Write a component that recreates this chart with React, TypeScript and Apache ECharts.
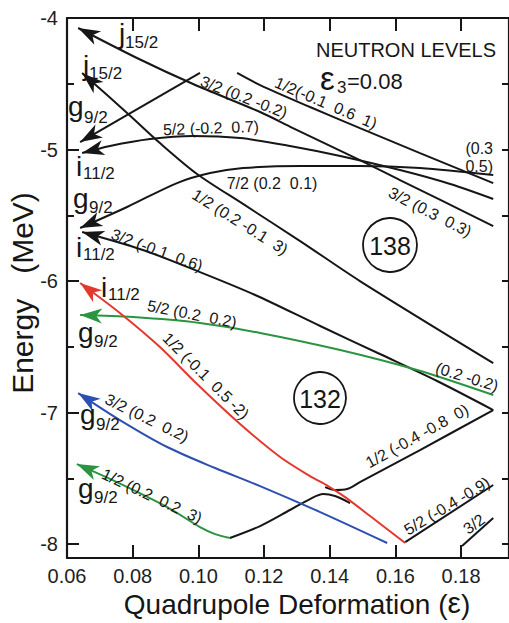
import React, { useEffect, useRef } from "react";
import * as echarts from "echarts";

type P = [number, number];

const X_MIN = 0.06;
const X_MAX = 0.1946;
const Y_MIN = -8.106;
const Y_MAX = -4;

const xTickValues = [0.06, 0.08, 0.1, 0.12, 0.14, 0.16, 0.18];
const yMajorTicks = [-8, -7, -6, -5, -4];
const yMinorTicks = [-7.5, -6.5, -5.5, -4.5];

// Single-particle neutron levels (deformation, energy in MeV)
const j15Upper: P[] = [[0.0634, -4.076], [0.0813, -4.304], [0.0984, -4.502], [0.1188, -4.715], [0.1288, -4.837], [0.1492, -5.08], [0.1614, -5.232], [0.1898, -5.582]];
const j15Lower: P[] = [[0.0646, -4.418], [0.0783, -4.722], [0.0883, -4.951], [0.0996, -5.186], [0.1136, -5.414], [0.131, -5.696], [0.1492, -6.0], [0.1898, -6.624]];
const g92Upper: P[] = [[0.064, -4.943], [0.1005, -4.418]];
const level52a: P[] = [[0.0646, -5.027], [0.0731, -4.973], [0.0853, -4.92], [0.0984, -4.897], [0.1127, -4.913], [0.1279, -4.973], [0.1432, -5.049], [0.1614, -5.156], [0.1767, -5.262], [0.1898, -5.376]];
const level72: P[] = [[0.064, -5.597], [0.0783, -5.437], [0.0935, -5.255], [0.1036, -5.179], [0.1136, -5.141], [0.131, -5.125], [0.1492, -5.125], [0.1675, -5.141], [0.1898, -5.194]];
const level12top: P[] = [[0.1118, -4.418], [0.1188, -4.51], [0.134, -4.677], [0.1492, -4.837], [0.1675, -5.027], [0.1898, -5.255]];
const level32a: P[] = [[0.0646, -5.627], [0.0831, -5.764], [0.1005, -5.932], [0.1173, -6.106], [0.1371, -6.342], [0.1553, -6.555], [0.1727, -6.76], [0.1898, -6.981]];
const level12v: P[] = [[0.1386, -7.567], [0.1416, -7.589], [0.1453, -7.582], [0.1492, -7.529], [0.1675, -7.285], [0.1898, -6.981]];
const redLevel: P[] = [[0.064, -6.015], [0.0761, -6.243], [0.0883, -6.502], [0.0996, -6.783], [0.1127, -7.087], [0.1249, -7.338], [0.134, -7.483], [0.1395, -7.559], [0.1447, -7.643], [0.1523, -7.787], [0.163, -7.992]];
const blackLower: P[] = [[0.1096, -7.954], [0.1188, -7.863], [0.1279, -7.741], [0.134, -7.658], [0.138, -7.62], [0.1416, -7.635], [0.1462, -7.688]];
const greenUpper: P[] = [[0.064, -6.259], [0.0801, -6.274], [0.1005, -6.319], [0.1188, -6.395], [0.1432, -6.525], [0.1666, -6.677], [0.1898, -6.867]];
const blueLevel: P[] = [[0.0634, -6.852], [0.0761, -7.057], [0.0905, -7.262], [0.1051, -7.422], [0.1188, -7.559], [0.1371, -7.757], [0.1575, -7.992]];
const greenLower: P[] = [[0.063, -7.392], [0.0752, -7.529], [0.0905, -7.719], [0.1005, -7.871], [0.1051, -7.924], [0.1096, -7.954]];
const level52b: P[] = [[0.163, -7.985], [0.1898, -7.551]];
const level32b: P[] = [[0.1803, -8.015], [0.1898, -7.802]];

const BLACK = "#161616";
const RED = "#e4382e";
const GREEN = "#2a9440";
const BLUE = "#2d4fb2";
const FONT = '"Liberation Sans", Arial, Helvetica, sans-serif';

const curves: { data: P[]; color: string; arrow: boolean; z: number }[] = [
  { data: j15Upper, color: BLACK, arrow: true, z: 2 },
  { data: j15Lower, color: BLACK, arrow: true, z: 2 },
  { data: g92Upper, color: BLACK, arrow: true, z: 2 },
  { data: level52a, color: BLACK, arrow: true, z: 2 },
  { data: level72, color: BLACK, arrow: true, z: 2 },
  { data: level12top, color: BLACK, arrow: false, z: 2 },
  { data: level32a, color: BLACK, arrow: true, z: 2 },
  { data: level12v, color: BLACK, arrow: false, z: 2 },
  { data: blackLower, color: BLACK, arrow: false, z: 2 },
  { data: level52b, color: BLACK, arrow: false, z: 2 },
  { data: level32b, color: BLACK, arrow: false, z: 2 },
  { data: greenUpper, color: GREEN, arrow: true, z: 3 },
  { data: blueLevel, color: BLUE, arrow: true, z: 3 },
  { data: greenLower, color: GREEN, arrow: true, z: 3 },
  { data: redLevel, color: RED, arrow: true, z: 4 },
];

const deg = (d: number) => (-d * Math.PI) / 180;

function txt(text: string, x: number, y: number, size: number, opts: any = {}) {
  return {
    type: "text",
    x,
    y,
    rotation: opts.rot ? deg(opts.rot) : 0,
    z: 20,
    silent: true,
    style: {
      text,
      fill: BLACK,
      font: `${size}px ${FONT}`,
      align: opts.align || "left",
      verticalAlign: "middle",
      lineHeight: opts.lh || Math.round(size * 1.1),
      rich: opts.rich,
    },
  };
}

// orbital labels: main letter + subscript
const orbital = (m: string, s: string, mx: number, my: number, sx: number, sy: number) => [
  txt(m, mx, my, 28),
  txt(s, sx, sy, 17),
];

const graphics: any[] = [
  ...orbital("j", "15/2", 119, 33, 125, 42),
  ...orbital("j", "15/2", 83, 65, 89, 73),
  ...orbital("g", "9/2", 68, 106, 84, 117),
  ...orbital("i", "11/2", 76, 166, 83, 173),
  ...orbital("g", "9/2", 73, 198, 89, 207),
  ...orbital("i", "11/2", 76, 247, 83, 254),
  ...orbital("i", "11/2", 101, 287, 108, 294),
  ...orbital("g", "9/2", 78, 332, 94, 341),
  ...orbital("g", "9/2", 80, 414, 96, 424),
  ...orbital("g", "9/2", 78, 488, 94, 497),
  txt("3/2 (0.2 -0.2)", 244, 97, 16, { align: "center", rot: 21 }),
  txt("1/2(-0.1  0.6  1)", 326, 103, 16, { align: "center", rot: 23 }),
  txt("5/2 (-0.2  0.7)", 211, 128, 16, { align: "center", rot: -2 }),
  txt("7/2 (0.2  0.1)", 272, 183, 16, { align: "center" }),
  txt("1/2 (0.2 -0.1  3)", 240, 222, 16, { align: "center", rot: 32 }),
  txt("3/2 (-0.1  0.6)", 157, 250, 16, { align: "center", rot: 20 }),
  txt("5/2 (0.2  0.2)", 192, 314, 16, { align: "center", rot: 11 }),
  txt("1/2 (-0.1  0.5 -2)", 206, 376, 16, { align: "center", rot: 45 }),
  txt("3/2 (0.2  0.2)", 147, 418, 16, { align: "center", rot: 26 }),
  txt("1/2 (0.2  0.2  3)", 152, 496, 16, { align: "center", rot: 25 }),
  txt("(0.3", 493, 148, 16, { align: "right" }),
  txt("0.5)", 493, 166, 16, { align: "right" }),
  txt("3/2 (0.3  0.3)", 430, 212, 16, { align: "center", rot: 27 }),
  txt("(0.2 -0.2)", 467, 377, 16, { align: "center", rot: 17 }),
  txt("1/2 (-0.4 -0.8  0)", 417, 436, 16, { align: "center", rot: -29 }),
  txt("5/2 (-0.4 -0.9)", 447, 506, 16, { align: "center", rot: -31 }),
  txt("3/2", 474, 524, 16, { align: "center", rot: -36 }),
  txt("NEUTRON LEVELS", 406, 50, 20, { align: "center", lh: 18 }),
  txt("ε", 320, 78, 33, { lh: 18 }),
  txt("3", 337, 87, 17, { lh: 15 }),
  txt("=0.08", 347, 81, 22, { lh: 18 }),
  txt("{a|Quadrupole Deformation (}{e|ε}{a|)}", 297, 604, 28, {
    align: "center",
    lh: 24,
    rich: {
      a: { font: `28px ${FONT}`, fill: BLACK, lineHeight: 24 },
      e: { font: `30px ${FONT}`, fill: BLACK, lineHeight: 20, padding: [0, 0, 3, 0] },
    },
  }),
  txt("Energy   (MeV)", 22, 293, 30, { align: "center", rot: -90 }),
  {
    type: "circle",
    z: 20,
    silent: true,
    shape: { cx: 390, cy: 245, r: 27 },
    style: { fill: "none", stroke: BLACK, lineWidth: 1.8 },
  },
  txt("138", 390, 246, 25, { align: "center" }),
  {
    type: "circle",
    z: 20,
    silent: true,
    shape: { cx: 320, cy: 398, r: 26 },
    style: { fill: "none", stroke: BLACK, lineWidth: 1.8 },
  },
  txt("132", 320, 399, 25, { align: "center" }),
];

const axisLineStyle = { lineStyle: { color: BLACK, width: 2.2 } };

const option: any = {
  animation: false,
  grid: { left: 67, top: 18, right: 0, bottom: 65, containLabel: false },
  xAxis: [
    {
      type: "value",
      position: "bottom",
      min: X_MIN,
      max: X_MAX,
      axisLine: { show: true, ...axisLineStyle },
      axisTick: { show: true, inside: true, length: 13, customValues: xTickValues, lineStyle: { color: BLACK, width: 2 } },
      axisLabel: {
        show: true,
        customValues: xTickValues,
        formatter: (v: number) => v.toFixed(2),
        fontSize: 20,
        fontFamily: FONT,
        color: "#1e1e1e",
        margin: 8,
      },
      splitLine: { show: false },
    },
    {
      type: "value",
      position: "top",
      min: X_MIN,
      max: X_MAX,
      axisLine: { show: true, ...axisLineStyle },
      axisTick: { show: true, inside: true, length: 13, customValues: xTickValues, lineStyle: { color: BLACK, width: 2 } },
      axisLabel: { show: false },
      splitLine: { show: false },
    },
  ],
  yAxis: [
    {
      type: "value",
      position: "left",
      min: Y_MIN,
      max: Y_MAX,
      axisLine: { show: true, ...axisLineStyle },
      axisTick: { show: true, inside: true, length: 12, customValues: yMajorTicks, lineStyle: { color: BLACK, width: 2 } },
      axisLabel: {
        show: true,
        customValues: yMajorTicks,
        formatter: (v: number) => String(v),
        fontSize: 20,
        fontFamily: FONT,
        color: "#1e1e1e",
        margin: 9,
      },
      splitLine: { show: false },
    },
    {
      type: "value",
      position: "left",
      min: Y_MIN,
      max: Y_MAX,
      axisLine: { show: false },
      axisTick: { show: true, inside: true, length: 7, customValues: yMinorTicks, lineStyle: { color: BLACK, width: 2 } },
      axisLabel: { show: false },
      splitLine: { show: false },
    },
    {
      type: "value",
      position: "right",
      min: Y_MIN,
      max: Y_MAX,
      axisLine: { show: true, ...axisLineStyle },
      axisTick: { show: true, inside: true, length: 7, customValues: [...yMajorTicks, ...yMinorTicks], lineStyle: { color: BLACK, width: 2 } },
      axisLabel: { show: false },
      splitLine: { show: false },
    },
  ],
  series: [
    ...curves.map((c) => ({
      type: "line",
      xAxisIndex: 0,
      yAxisIndex: 0,
      data: c.data,
      smooth: 0.3,
      showSymbol: false,
      symbol: "none",
      silent: true,
      z: c.z,
      lineStyle: { color: c.color, width: 2 },
    })),
    {
      type: "custom",
      coordinateSystem: "cartesian2d",
      xAxisIndex: 0,
      yAxisIndex: 0,
      silent: true,
      z: 6,
      data: curves
        .filter((c) => c.arrow)
        .map((c) => ({
          value: [c.data[0][0], c.data[0][1], c.data[1][0], c.data[1][1]],
          itemStyle: { color: c.color },
        })),
      renderItem: (_params: any, api: any) => {
        const p0 = api.coord([api.value(0), api.value(1)]);
        const p1 = api.coord([api.value(2), api.value(3)]);
        let dx = p1[0] - p0[0];
        let dy = p1[1] - p0[1];
        const len = Math.hypot(dx, dy) || 1;
        dx /= len;
        dy /= len;
        const L = 22;
        const W = 7.5;
        const N = 16;
        const bx = p0[0] + dx * L;
        const by = p0[1] + dy * L;
        const nx = -dy;
        const ny = dx;
        return {
          type: "polygon",
          shape: {
            points: [
              [p0[0], p0[1]],
              [bx + nx * W, by + ny * W],
              [p0[0] + dx * N, p0[1] + dy * N],
              [bx - nx * W, by - ny * W],
            ],
          },
          style: { fill: api.visual("color") },
        };
      },
    },
  ],
  graphic: graphics,
};

export default function App() {
  const ref = useRef<HTMLDivElement>(null);
  useEffect(() => {
    document.body.style.margin = "0";
    const chart = echarts.init(ref.current as HTMLDivElement, null, { renderer: "svg" });
    chart.setOption(option);
    return () => chart.dispose();
  }, []);
  return <div ref={ref} style={{ width: 509, height: 623 }} />;
}
